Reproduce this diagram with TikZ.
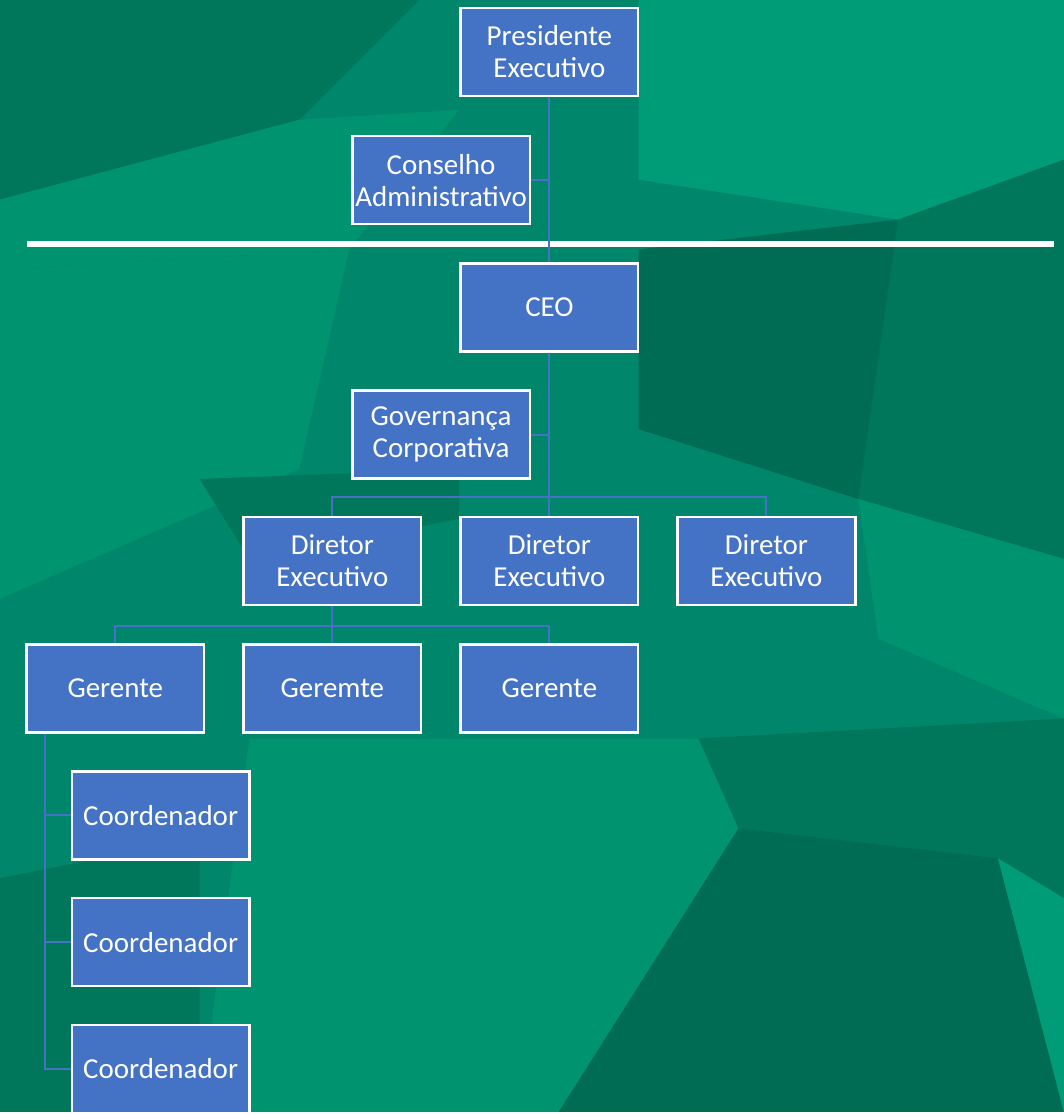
\documentclass[tikz,border=0pt]{standalone}
\usepackage{fontspec}
\setmainfont{Carlito}
\definecolor{boxblue}{HTML}{4472C4}
\definecolor{gbase}{HTML}{00866A}
\definecolor{gdark}{HTML}{00765A}
\definecolor{gdarker}{HTML}{006C53}
\definecolor{glight}{HTML}{00936F}
\definecolor{glighter}{HTML}{009C77}
\begin{document}
\begin{tikzpicture}[x=1pt,y=-1pt,
  orgbox/.style={draw=white,line width=2.5pt,fill=boxblue,text=white,
    minimum width=178pt,minimum height=88pt,inner sep=2pt,align=center,
    font=\fontsize{29}{32}\selectfont},
  link/.style={draw=boxblue,line width=2pt}]
% background
\fill[gbase] (0,0) rectangle (1066,1114);
\fill[gdark] (0,0) -- (420,0) -- (300,120) -- (0,200) -- cycle;
\fill[glight] (0,200) -- (300,120) -- (460,110) -- (350,250) -- (0,270) -- cycle;
\fill[glighter] (640,0) -- (1066,0) -- (1066,160) -- (900,220) -- (640,180) -- cycle;
\fill[gdark] (900,220) -- (1066,160) -- (1066,560) -- (860,500) -- cycle;
\fill[gdarker] (640,250) -- (900,220) -- (860,500) -- (640,430) -- cycle;
\fill[glight] (0,270) -- (350,250) -- (300,470) -- (0,600) -- cycle;
\fill[gdark] (200,480) -- (460,470) -- (460,520) -- (250,560) -- cycle;
\fill[glight] (860,500) -- (1066,560) -- (1066,720) -- (880,640) -- cycle;
\fill[glight] (250,740) -- (700,740) -- (740,830) -- (560,1114) -- (200,1114) -- cycle;
\fill[gdark] (700,740) -- (1066,720) -- (1066,900) -- (1000,860) -- (740,830) -- cycle;
\fill[gdarker] (740,830) -- (1000,860) -- (1066,1114) -- (560,1114) -- cycle;
\fill[glighter] (1000,860) -- (1066,900) -- (1066,1114) -- cycle;
\fill[gdark] (0,880) -- (200,840) -- (200,1114) -- (0,1114) -- cycle;
% separator
\fill[white] (27,241) rectangle (1056,247);
% nodes
\node[orgbox] (pres) at (550.5,52) {Presidente\\Executivo};
\node[orgbox] (cons) at (442,180.5) {Conselho\\Administrativo};
\node[orgbox] (ceo) at (550.5,308) {CEO};
\node[orgbox] (gov) at (442,435.5) {Governança\\Corporativa};
\node[orgbox] (d1) at (333,562) {Diretor\\Executivo};
\node[orgbox] (d2) at (550.5,562) {Diretor\\Executivo};
\node[orgbox] (d3) at (768,562) {Diretor\\Executivo};
\node[orgbox] (g1) at (115.5,690) {Gerente};
\node[orgbox] (g2) at (333,690) {Geremte};
\node[orgbox] (g3) at (550.5,690) {Gerente};
\node[orgbox] (c1) at (161,817) {Coordenador};
\node[orgbox] (c2) at (161,944) {Coordenador};
\node[orgbox] (c3) at (161,1071) {Coordenador};
% connectors
\coordinate (g1l) at (45,0);
\draw[link] (pres.south) -- (ceo.north);
\draw[link] (cons.east) -- (cons.east -| pres.south);
\draw[link] (ceo.south) -- (d2.north);
\draw[link] (gov.east) -- (gov.east -| ceo.south);
\draw[link] (d1.north) -- ++(0,-19) -| (d3.north);
\draw[link] (d1.south) -- ++(0,20) -| (g1.north);
\draw[link] (d1.south) ++(0,20) -| (g3.north);
\draw[link] (g2.north) -- (g2.north |- d1.south);
\draw[link] (g1.south -| g1l) |- (c3.west);
\draw[link] (c1.west) -- (c1.west -| g1l);
\draw[link] (c2.west) -- (c2.west -| g1l);
\end{tikzpicture}
\end{document}
